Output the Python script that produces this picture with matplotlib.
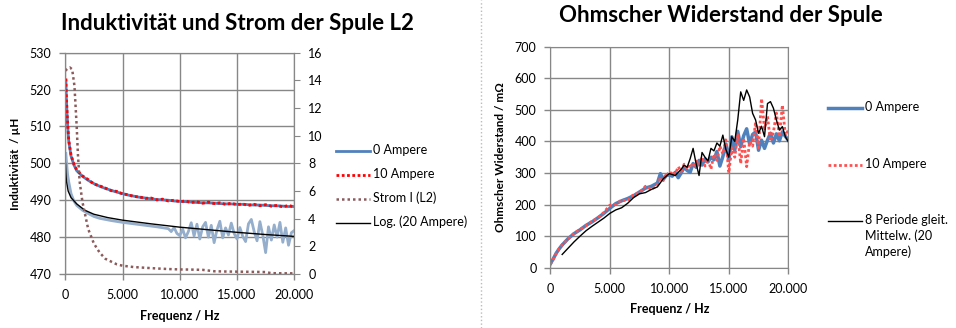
'''
Inductance, current and ohmic resistance of coil L2 over frequency.
'''
import matplotlib
matplotlib.use('Agg')
import matplotlib.pyplot as plt
from matplotlib.lines import Line2D
from matplotlib.ticker import FuncFormatter

# --- left chart: inductance (uH) and current (A) ---
freq_l = [50, 100, 200, 300, 500, 750, 1000, 1500, 2000, 2500, 3000, 3500, 4000, 4500,
          5000, 5500, 6000, 6500, 7000, 7500, 8000, 8500, 9000, 9500, 10000, 10500,
          11000, 11500, 12000, 12500, 13000, 13500, 14000, 14500, 15000, 15500, 16000,
          16500, 17000, 17500, 18000, 18500, 19000, 19500, 20000]
ind_0a = [522.5, 517.0, 510.5, 506.0, 502.0, 499.6, 498.0, 496.5, 495.4, 494.5, 493.8,
          493.2, 492.7, 492.2, 491.8, 491.4, 491.1, 490.8, 490.6, 490.4, 490.2, 490.1,
          490.0, 489.8, 489.7, 489.6, 489.5, 489.4, 489.3, 489.3, 489.2, 489.1, 489.0,
          489.0, 488.9, 488.9, 488.8, 488.7, 488.7, 488.6, 488.5, 488.5, 488.4, 488.3, 488.3]
ind_10a = [523.0, 517.5, 511.0, 506.3, 502.3, 499.8, 498.2, 496.6, 495.6, 494.4, 493.9,
           493.3, 492.6, 492.4, 491.7, 491.5, 491.0, 490.9, 490.5, 490.6, 490.1, 490.3,
           489.8, 490.0, 489.6, 489.8, 489.4, 489.6, 489.2, 489.5, 489.1, 489.3, 488.9,
           489.2, 488.8, 489.0, 488.6, 488.9, 488.5, 488.8, 488.4, 488.6, 488.2, 488.6, 488.2]

freq_20a = [50, 100, 200, 300, 500, 750, 1000, 1500, 2000, 2500, 3000, 4000, 5000, 6000,
            7000, 8000, 9000, 9250, 9500, 9750, 10000, 10250, 10500, 10750, 11000, 11250,
            11500, 11750, 12000, 12250, 12500, 12750, 13000, 13250, 13500, 13750, 14000,
            14250, 14500, 14750, 15000, 15250, 15500, 15750, 16000, 16250, 16500, 16750,
            17000, 17250, 17500, 17750, 18000, 18250, 18500, 18750, 19000, 19250, 19500,
            19750, 20000]
ind_20a = [502.7, 500.5, 497.0, 495.0, 491.8, 489.8, 488.6, 487.3, 486.4, 485.6, 485.1,
           484.5, 484.0, 483.6, 483.2, 482.8, 482.3, 481.5, 482.6, 481.0, 480.4, 482.2,
           479.8, 481.5, 483.9, 480.3, 483.5, 479.5, 482.8, 484.0, 480.0, 483.2, 478.5,
           482.0, 484.3, 479.8, 482.5, 480.6, 483.8, 481.0, 479.5, 482.6, 480.2, 478.8,
           483.6, 484.8, 481.5, 479.0, 484.2, 480.5, 475.8, 482.8, 479.2, 483.3, 480.0,
           484.0, 478.6, 482.5, 477.8, 481.2, 481.8]

freq_log = [20, 50, 100, 250, 500, 1000, 1700, 2500, 3700, 5000, 7500, 10000, 12500,
            15000, 17500, 20000]
ind_log = [500.0, 497.5, 495.2, 492.5, 490.7, 489.0, 487.3, 486.2, 485.3, 484.6, 483.6,
           482.7, 482.0, 481.3, 480.7, 480.2]

freq_i = [0, 200, 400, 600, 800, 1000, 1100, 1250, 1500, 2000, 2500, 3000, 3500, 4500,
          5000, 6000, 7000, 8000, 9000, 10000, 11000, 12000, 13000, 14000, 15000, 16000,
          17000, 17500, 18000, 19000, 20000]
strom = [14.7, 14.85, 14.93, 14.8, 13.6, 10.6, 8.7, 6.7, 5.2, 3.25, 2.2, 1.55, 1.1, 0.7,
         0.6, 0.5, 0.45, 0.4, 0.36, 0.33, 0.32, 0.3, 0.2, 0.18, 0.17, 0.16, 0.15, 0.14,
         0.06, 0.05, 0.05]

# --- right chart: ohmic resistance (mOhm) ---
freq_r = [0, 250, 500, 750, 1000, 1500, 2000, 2500, 3000, 3500, 4000, 4500, 5000, 5500,
          6000, 6500, 7000, 7500, 8000, 8500, 9000, 9250, 9500, 9750, 10000, 10250, 10500,
          10750, 11000, 11250, 11500, 11750, 12000, 12250, 12500, 12750, 13000, 13250,
          13500, 13750, 14000, 14250, 14500, 14750, 15000, 15250, 15500, 15750, 16000,
          16250, 16500, 16750, 17000, 17250, 17500, 17750, 18000, 18250, 18500, 18750,
          19000, 19250, 19500, 19750, 20000]
r_0a = [12, 28, 46, 60, 72, 92, 108, 120, 134, 145, 158, 172, 188, 203, 212, 219, 228,
        240, 252, 258, 268, 298, 280, 292, 294, 290, 302, 285, 300, 318, 308, 302, 330,
        318, 340, 325, 345, 335, 350, 342, 368, 322, 352, 392, 340, 415, 372, 432, 383,
        418, 440, 392, 422, 430, 372, 404, 378, 404, 426, 395, 424, 402, 430, 416, 404]
r_10a = [10, 27, 45, 60, 73, 91, 109, 121, 133, 147, 157, 175, 198, 200, 215, 212, 232,
         236, 258, 248, 262, 285, 276, 300, 292, 305, 296, 320, 305, 328, 312, 330, 318,
         338, 325, 350, 322, 345, 312, 360, 340, 385, 360, 405, 300, 380, 350, 420, 330,
         410, 320, 400, 385, 460, 380, 536, 440, 480, 400, 430, 490, 415, 515, 420, 435]

freq_ma = [1000, 1500, 2000, 2500, 3000, 3500, 4000, 4500, 5000, 5500, 6000, 6500, 7000,
           7500, 8000, 8500, 9000, 9500, 10000, 10500, 11000, 11250, 11500, 11750, 12000,
           12250, 12500, 12750, 13000, 13250, 13500, 13750, 14000, 14250, 14500, 14750,
           15000, 15250, 15500, 15750, 16000, 16250, 16500, 16750, 17000, 17250, 17500,
           17750, 18000, 18250, 18500, 18750, 19000, 19250, 19500, 19750, 20000]
r_ma = [42, 62, 82, 100, 117, 131, 144, 157, 172, 183, 190, 204, 222, 234, 238, 248, 256,
        282, 298, 292, 312, 325, 318, 345, 378, 330, 292, 365, 350, 338, 378, 370, 395,
        385, 420, 375, 350, 415, 400, 468, 557, 530, 563, 541, 489, 468, 426, 448, 415,
        520, 526, 505, 468, 436, 447, 415, 399]

GRID = '#878787'
FONT = 'Lato'

# line styles, shared by plot and legend
STYLE = {
    '0A': dict(color='#4F81BD', lw=2),
    '10A': dict(color='#FF0000', lw=2, ls=(0, (1, 0.9))),
    '20A': dict(color='#95AECB', lw=2),
    'log': dict(color='black', lw=1),
    'strom': dict(color='#8C5A5A', lw=1.8, ls=(0, (1, 1.2))),
    'r0A': dict(color='#4F81BD', lw=2.5),
    'r10A': dict(color='#FF5050', lw=2, ls=(0, (1, 0.9))),
    'ma': dict(color='black', lw=1),
}


def thousands(v, pos):
    return f'{int(v):,}'.replace(',', '.')


def style_axis(ax, ylim, yticks):
    ax.set_xlim(0, 20000)
    ax.set_ylim(*ylim)
    ax.set_xticks([0, 5000, 10000, 15000, 20000])
    ax.set_yticks(yticks)
    ax.xaxis.set_major_formatter(FuncFormatter(thousands))
    ax.grid(True, color=GRID, linewidth=1)
    ax.set_axisbelow(True)
    for s in ax.spines.values():
        s.set_color(GRID)
    ax.tick_params(colors=GRID, labelcolor='black', labelsize=9, length=4, width=1)
    ax.tick_params(axis='x', pad=7)
    ax.tick_params(axis='y', pad=6)
    ax.set_xlabel('Frequenz / Hz', fontsize=9, fontweight='bold', labelpad=6)


def add_legend(fig, styles, labels, x_line, y_rows):
    '''
    Excel-like legend: short line sample, label to its right (pixel positions)
    '''
    W, H = fig.get_size_inches() * fig.dpi
    for st, lab, y in zip(styles, labels, y_rows):
        yy = 1 - y / H
        fig.add_artist(Line2D([x_line / W, (x_line + 34) / W], [yy, yy], **STYLE[st]))
        fig.text((x_line + 37) / W, yy + 7.5 / H, lab, va='top', ha='left',
                 fontsize=9, linespacing=1.35)


def main():
    plt.rcParams['font.family'] = [FONT, 'DejaVu Sans']
    fig = plt.figure(figsize=(9.56, 3.28), dpi=100)

    # left chart
    ax1 = fig.add_axes([0.0683, 0.1646, 0.2395, 0.6747])
    ax2 = ax1.twinx()
    style_axis(ax1, (470, 530), range(470, 531, 10))
    ax1.set_ylabel('Induktivität  / µH', fontsize=8.5, fontweight='bold', labelpad=6)

    ax1.plot(freq_20a, ind_20a, **STYLE['20A'])
    ax1.plot(freq_l, ind_0a, **STYLE['0A'])
    ax1.plot(freq_l, ind_10a, **STYLE['10A'])
    ax1.plot(freq_log, ind_log, **STYLE['log'])
    ax2.plot(freq_i, strom, **STYLE['strom'])
    ax2.set_ylim(0, 16)
    ax2.set_yticks(range(0, 17, 2))
    for s in ax2.spines.values():
        s.set_color(GRID)
    ax2.tick_params(colors=GRID, labelcolor='black', labelsize=9, length=4, pad=6)

    fig.text(237 / 956, 1 - 23 / 328, 'Induktivität und Strom der Spule L2',
             ha='center', va='center', fontsize=16, fontweight='bold')
    add_legend(fig, ['0A', '10A', 'strom', 'log'],
               ['0 Ampere', '10 Ampere', 'Strom I (L2)', 'Log. (20 Ampere)'],
               336, [151, 175, 199, 223])

    # right chart
    ax3 = fig.add_axes([0.5756, 0.1838, 0.249, 0.6738])
    style_axis(ax3, (0, 700), range(0, 701, 100))
    ax3.set_ylabel('Ohmscher Widerstand / mΩ', fontsize=8.5, fontweight='bold', labelpad=6)
    ax3.plot(freq_r, r_0a, **STYLE['r0A'])
    ax3.plot(freq_r, r_10a, **STYLE['r10A'])
    ax3.plot(freq_ma, r_ma, **STYLE['ma'])

    fig.text(721 / 956, 1 - 16 / 328, 'Ohmscher Widerstand der Spule',
             ha='center', va='center', fontsize=16, fontweight='bold')
    add_legend(fig, ['r0A', 'r10A', 'ma'],
               ['0 Ampere', '10 Ampere', '8 Periode gleit.\nMittelw. (20\nAmpere)'],
               828, [108, 165, 221])

    # dotted separator between the two charts
    fig.add_artist(Line2D([481 / 956, 481 / 956], [0, 1], color='#BBBBBB', lw=1, ls=':'))

    plt.savefig('out.png', dpi=100)


if __name__ == '__main__':
    main()
